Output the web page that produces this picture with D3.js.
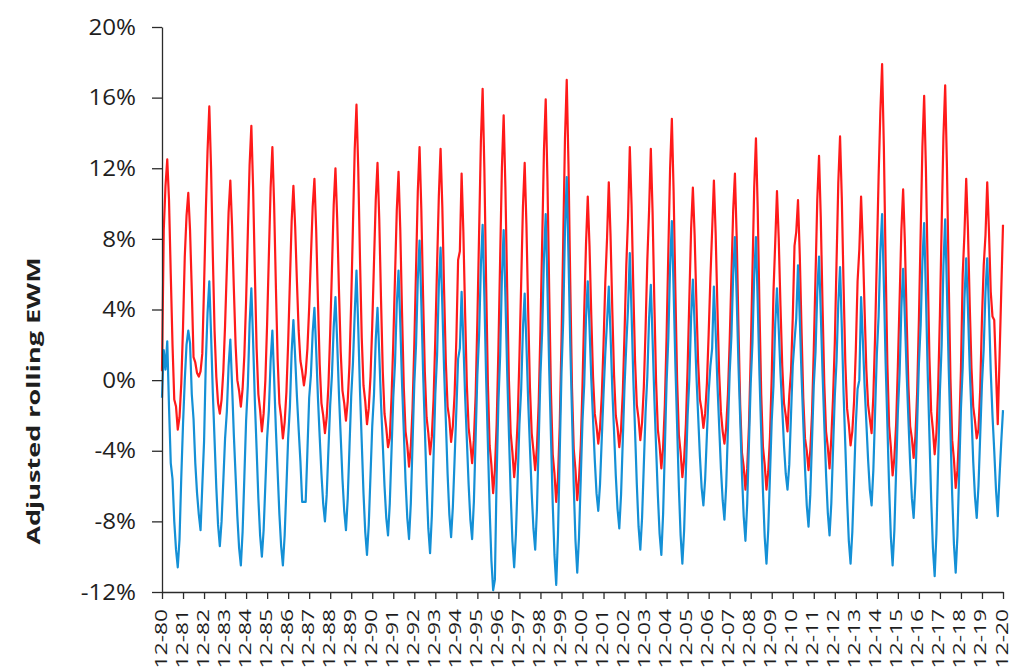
<!DOCTYPE html>
<html>
<head>
<meta charset="utf-8">
<script src="https://cdn.jsdelivr.net/npm/d3@7"></script>
<style>
  body { margin: 0; background: #ffffff; }
  .axis text { font-family: "Open Sans", sans-serif; fill: #1e1e1e; }
  .axis path, .axis line { stroke: #2b2b2b; stroke-width: 1.3px; }
</style>
</head>
<body>
<div id="graph"></div>
<script>
// x axis labels, one per December (month index 0, 12, 24, ...)
var yearLabels = ['12-80', '12-81', '12-82', '12-83', '12-84', '12-85', '12-86', '12-87',
    '12-88', '12-89', '12-90', '12-91', '12-92', '12-93', '12-94', '12-95', '12-96',
    '12-97', '12-98', '12-99', '12-00', '12-01', '12-02', '12-03', '12-04', '12-05',
    '12-06', '12-07', '12-08', '12-09', '12-10', '12-11', '12-12', '12-13', '12-14',
    '12-15', '12-16', '12-17', '12-18', '12-19', '12-20'];

// y axis ticks (percent)
var yTicks = [-12, -8, -4, 0, 4, 8, 12, 16, 20];

// red series, monthly from Dec 1980, then Jan..Dec of each year (percent)
var redSeries = [0.5,
    8.5, 11.0, 12.5, 10.2, 6.0, 2.0, -1.1, -1.5, -2.8, -2.1, -0.2, 3.0,     // 1981
    7.0, 9.3, 10.6, 8.5, 5.1, 1.3, 1.0, 0.4, 0.2, 0.5, 1.5, 5.3,           // 1982
    9.5, 13.0, 15.5, 12.0, 7.1, 2.8, 0.2, -1.3, -1.9, -1.1, 0.5, 3.1,      // 1983
    6.3, 9.5, 11.3, 8.7, 5.2, 2.0, 0.0, -0.6, -1.5, -0.5, 1.4, 4.5,        // 1984
    8.4, 12.2, 14.4, 10.9, 6.1, 1.8, -0.8, -1.7, -2.9, -1.9, 0.0, 3.2,     // 1985
    7.1, 10.9, 13.2, 9.9, 5.3, 1.2, -1.3, -2.1, -3.3, -2.4, -0.7, 2.1,     // 1986
    5.6, 9.0, 11.0, 8.7, 5.6, 2.8, 1.1, 0.5, -0.3, 0.4, 1.8, 4.1,          // 1987
    7.0, 9.8, 11.4, 8.5, 4.5, 0.9, -1.3, -2.0, -3.0, -2.1, -0.3, 2.7,      // 1988
    6.3, 9.9, 12.0, 9.1, 5.1, 1.6, -0.6, -1.3, -2.3, -1.2, 0.9, 4.5,       // 1989
    8.8, 13.1, 15.6, 12.0, 6.9, 2.4, -0.3, -1.2, -2.5, -1.6, 0.2, 3.1,     // 1990
    6.7, 10.2, 12.3, 9.1, 4.6, 0.5, -1.9, -2.7, -3.8, -3.3, -1.0, 2.1,     // 1991
    5.9, 9.6, 11.8, 8.5, 3.8, -0.4, -2.9, -3.7, -4.9, -3.8, -1.6, 2.0,     // 1992
    6.3, 10.7, 13.2, 9.7, 4.8, 0.5, -2.1, -3.0, -4.2, -3.2, -1.1, 2.4,     // 1993
    6.5, 10.4, 13.1, 9.8, 5.1, 1.0, -1.5, -2.2, -3.5, -2.6, -0.8, 2.3,     // 1994
    6.8, 7.3, 11.7, 8.4, 3.8, -0.3, -2.7, -3.6, -4.7, -3.4, -0.9, 3.4,     // 1995
    8.4, 13.5, 16.5, 11.9, 5.5, -0.2, -3.7, -4.8, -6.4, -5.1, -2.5, 1.7,   // 1996
    6.9, 12.0, 15.0, 10.9, 5.2, 0.0, -3.0, -4.1, -5.5, -4.4, -2.3, 1.3,    // 1997
    5.5, 9.8, 12.3, 8.8, 3.9, -0.4, -3.0, -4.0, -5.1, -3.8, -1.3, 2.9,     // 1998
    7.9, 13.0, 15.9, 11.3, 5.0, -0.7, -4.2, -5.3, -6.9, -5.5, -2.6, 2.2,   // 1999
    7.9, 13.7, 17.0, 12.2, 5.6, -0.4, -3.9, -5.1, -6.8, -5.6, -3.7, -0.3,  // 2000
    3.9, 7.7, 10.4, 7.6, 3.7, 0.2, -1.9, -2.6, -3.6, -2.7, -0.9, 2.0,      // 2001
    5.5, 8.0, 11.2, 8.2, 4.0, 0.3, -2.0, -2.7, -3.8, -2.8, -0.7, 2.7,      // 2002
    6.5, 9.2, 13.2, 9.9, 5.2, 1.1, -1.4, -2.2, -3.4, -2.4, -0.4, 2.9,      // 2003
    6.8, 9.6, 13.1, 9.5, 4.4, -0.1, -2.8, -3.7, -5.0, -3.8, -1.4, 2.5,     // 2004
    7.3, 12.0, 14.8, 10.7, 5.1, 0.0, -3.1, -4.1, -5.5, -4.5, -2.5, 0.7,    // 2005
    4.7, 8.6, 10.9, 8.2, 4.4, 1.0, -1.1, -1.7, -2.7, -1.9, -0.2, 2.6,      // 2006
    5.8, 8.5, 11.3, 8.3, 4.1, 0.4, -1.8, -2.9, -3.6, -2.7, -0.8, 2.2,      // 2007
    5.9, 9.6, 11.7, 8.1, 3.1, -1.4, -4.1, -4.9, -6.2, -5.0, -2.6, 1.4,     // 2008
    6.1, 10.9, 13.7, 9.7, 4.1, -0.8, -3.8, -4.8, -6.2, -5.2, -3.2, 0.2,    // 2009
    5.0, 7.8, 10.7, 8.0, 4.2, 0.8, -1.3, -2.0, -2.9, -0.9, 0.5, 3.5,       // 2010
    7.6, 8.4, 10.2, 7.1, 2.9, -1.0, -3.3, -4.0, -5.1, -4.0, -1.9, 1.7,     // 2011
    5.9, 10.2, 12.7, 9.2, 4.2, -0.2, -2.9, -3.8, -5.0, -3.3, -1.0, 2.1,    // 2012
    6.7, 11.2, 13.8, 10.3, 5.4, 1.0, -1.6, -2.5, -3.7, -2.9, -1.2, 1.7,    // 2013
    5.6, 7.4, 10.4, 7.7, 4.0, 0.6, -1.4, -2.2, -3.0, -0.9, 2.5, 7.0,       // 2014
    11.5, 15.2, 17.9, 13.2, 6.7, 0.9, -2.6, -3.8, -5.4, -4.4, -2.5, 0.8,   // 2015
    4.6, 8.5, 10.8, 7.8, 3.5, -0.3, -2.6, -3.3, -4.4, -3.2, -0.7, 3.4,     // 2016
    8.3, 13.2, 16.1, 12.0, 6.4, 1.3, -1.8, -2.8, -4.2, -3.0, -0.4, 3.7,    // 2017
    8.8, 13.8, 16.7, 12.1, 5.8, 0.1, -3.4, -4.5, -6.1, -5.1, -2.9, 0.6,    // 2018
    6.0, 8.3, 11.4, 8.5, 4.3, 0.7, -1.5, -2.3, -3.3, -2.8, -0.5, 3.5,      // 2019
    6.5, 8.2, 11.2, 8.4, 5.0, 3.6, 3.4, 0.5, -2.5, 1.2, 5.0, 8.8];         // 2020

// blue series, same months (percent)
var blueSeries = [-1.0,
    1.7, 0.6, 2.2, -1.5, -4.7, -5.6, -8.0, -9.6, -10.6, -9.0, -5.5, -2.5,  // 1981
    0.0, 2.0, 2.8, 2.1, -0.8, -2.2, -4.7, -6.4, -7.6, -8.5, -6.0, -3.5,    // 1982
    1.0, 3.8, 5.6, 2.6, -0.7, -3.4, -6.1, -8.2, -9.4, -8.0, -5.7, -3.3,    // 1983
    -1.8, 0.8, 2.3, -0.3, -3.1, -5.4, -7.7, -9.5, -10.5, -8.6, -5.5, -2.3, // 1984
    -0.3, 3.2, 5.2, 2.2, -1.2, -3.9, -6.7, -8.8, -10.0, -8.5, -5.9, -3.3,  // 1985
    -1.7, 1.1, 2.8, 0.1, -2.8, -5.2, -7.6, -9.4, -10.5, -8.8, -6.1, -3.3,  // 1986
    -1.5, 1.6, 3.4, 1.3, -0.9, -2.8, -4.6, -6.9, -6.9, -6.9, -4.0, -1.0,   // 1987
    0.3, 2.7, 4.1, 1.7, -1.0, -3.2, -5.3, -7.0, -8.0, -6.5, -3.9, -1.4,    // 1988
    0.3, 3.0, 4.7, 2.1, -0.8, -3.2, -5.6, -7.4, -8.5, -6.7, -3.8, -0.9,    // 1989
    1.0, 3.8, 6.2, 3.0, -0.6, -3.5, -6.4, -8.6, -9.9, -8.2, -5.4, -2.6,    // 1990
    -0.8, 2.3, 4.1, 1.5, -1.3, -3.6, -6.0, -7.8, -8.8, -7.0, -4.0, -1.0,   // 1991
    1.0, 4.3, 6.2, 3.2, -0.2, -2.9, -5.7, -7.8, -9.0, -7.0, -3.6, -0.2,    // 1992
    2.0, 5.7, 7.9, 4.4, 0.5, -2.7, -5.9, -8.4, -9.8, -7.7, -4.3, -0.8,     // 1993
    1.4, 5.3, 7.5, 4.2, 0.6, -2.3, -5.3, -7.6, -8.9, -7.2, -4.5, -1.7,     // 1994
    1.2, 1.8, 5.0, 2.2, -0.9, -3.4, -5.9, -7.9, -9.0, -6.9, -3.3, 0.3,     // 1995
    2.6, 6.5, 8.8, 4.7, 0.1, -3.6, -7.3, -10.2, -11.9, -11.3, -5.4, -1.3,  // 1996
    1.4, 5.8, 8.5, 4.7, 0.5, -3.0, -6.4, -9.1, -10.6, -8.7, -5.6, -2.5,    // 1997
    -0.5, 2.9, 4.9, 2.0, -1.2, -3.8, -6.4, -8.4, -9.6, -7.3, -3.5, 0.3,    // 1998
    2.8, 6.9, 9.4, 5.2, 0.6, -3.2, -7.0, -9.9, -11.6, -8.8, -4.2, 0.4,     // 1999
    3.4, 8.5, 11.5, 7.0, 2.1, -1.9, -6.0, -9.1, -10.9, -8.9, -5.6, -2.3,   // 2000
    -0.2, 3.5, 5.6, 3.0, 0.1, -2.2, -4.5, -6.4, -7.4, -5.9, -3.3, -0.8,    // 2001
    1.5, 3.3, 5.3, 2.6, -0.5, -2.9, -5.4, -7.3, -8.4, -6.5, -3.4, -0.3,    // 2002
    2.0, 4.1, 7.2, 3.8, 0.1, -2.9, -5.9, -8.3, -9.6, -7.8, -4.8, -1.8,     // 2003
    0.2, 3.5, 5.4, 2.3, -1.0, -3.8, -6.5, -8.7, -9.9, -7.6, -3.9, -0.1,    // 2004
    2.4, 6.5, 9.0, 5.1, 0.9, -2.6, -6.1, -8.8, -10.4, -8.5, -5.2, -2.0,    // 2005
    0.1, 3.6, 5.7, 3.1, 0.3, -2.0, -4.3, -6.1, -7.1, -5.6, -3.1, -0.7,     // 2006
    0.8, 1.8, 5.3, 2.7, -0.2, -2.6, -5.0, -6.8, -7.9, -6.0, -2.8, 0.4,     // 2007
    2.5, 6.0, 8.1, 4.7, 0.9, -2.2, -5.3, -7.7, -9.1, -7.0, -3.6, -0.2,     // 2008
    2.1, 5.9, 8.1, 4.4, 0.3, -3.0, -6.3, -8.9, -10.4, -8.5, -5.4, -2.3,    // 2009
    -0.3, 3.2, 5.2, 2.9, 0.4, -1.6, -3.7, -5.3, -6.2, -4.8, -2.0, 0.8,     // 2010
    2.2, 3.5, 6.5, 3.5, 0.3, -2.4, -5.0, -7.1, -8.3, -6.5, -3.4, -0.3,     // 2011
    1.6, 5.0, 7.0, 3.8, 0.4, -2.5, -5.3, -7.5, -8.8, -7.0, -3.9, -0.9,     // 2012
    1.1, 4.4, 6.4, 3.0, -0.7, -3.7, -6.7, -9.1, -10.4, -8.6, -5.6, -2.5,   // 2013
    -0.5, 0.0, 4.7, 2.3, -0.3, -2.4, -4.5, -6.2, -7.1, -5.1, -1.8, 1.5,    // 2014
    3.6, 7.3, 9.4, 5.4, 1.0, -2.5, -6.1, -8.9, -10.5, -8.5, -5.1, -1.8,    // 2015
    0.4, 4.1, 6.3, 3.5, 0.4, -2.2, -4.7, -6.7, -7.8, -5.8, -2.5, 0.9,      // 2016
    3.1, 6.7, 8.9, 4.9, 0.5, -3.1, -6.7, -9.5, -11.1, -8.7, -4.6, -0.6,    // 2017
    2.0, 6.5, 9.1, 5.1, 0.7, -2.9, -6.5, -9.3, -10.9, -8.8, -5.2, -1.6,    // 2018
    0.7, 4.6, 6.9, 4.0, 0.7, -1.9, -4.6, -6.6, -7.8, -6.0, -3.1, -0.2,     // 2019
    1.8, 5.0, 6.9, 4.0, 0.5, -2.0, -4.0, -6.2, -7.7, -5.5, -3.5, -1.7];    // 2020

window.onload = start;

function start() {
    var width = 1012;
    var height = 671;

    // plot box
    var left = 162, right = 1003, top = 27, bottom = 592;

    var svg = d3.select('#graph')
        .append('svg')
        .attr('width', width)
        .attr('height', height);

    // month index -> x
    var xScale = d3.scaleLinear()
        .domain([0, redSeries.length - 1])
        .range([left, right]);

    var yScale = d3.scaleLinear()
        .domain([yTicks[0], yTicks[yTicks.length - 1]])
        .range([bottom, top]);

    var line = d3.line()
        .x(function(d, i) { return xScale(i); })
        .y(function(d) { return yScale(d); });

    // red first, blue drawn over it
    svg.append('path')
        .datum(redSeries)
        .attr('fill', 'none')
        .attr('stroke', '#ff1a1a')
        .attr('stroke-width', 2.2)
        .attr('stroke-linejoin', 'round')
        .attr('d', line);

    svg.append('path')
        .datum(blueSeries)
        .attr('fill', 'none')
        .attr('stroke', '#1490d6')
        .attr('stroke-width', 2.2)
        .attr('stroke-linejoin', 'round')
        .attr('d', line);

    // y axis
    var yAxis = d3.axisLeft(yScale)
        .tickValues(yTicks)
        .tickSize(10)
        .tickSizeOuter(0)
        .tickFormat(function(d) { return d + '%'; });

    var yG = svg.append('g')
        .attr('class', 'axis')
        .attr('transform', 'translate(' + left + ',0)')
        .call(yAxis);

    // text is a bit wider than the font, so stretch it sideways
    yG.selectAll('text')
        .style('font-size', '21px')
        .attr('transform', 'scale(1.15,1)')
        .attr('x', -26 / 1.15)
        .attr('dy', '0.34em');

    // x axis, one tick per December
    var xAxis = d3.axisBottom(xScale)
        .tickValues(yearLabels.map(function(d, i) { return i * 12; }))
        .tickSize(7)
        .tickSizeOuter(0)
        .tickFormat(function(d) { return yearLabels[d / 12]; });

    var xG = svg.append('g')
        .attr('class', 'axis')
        .attr('transform', 'translate(0,' + bottom + ')')
        .call(xAxis);

    xG.selectAll('text')
        .style('font-size', '16.5px')
        .attr('text-anchor', 'end')
        .attr('transform', 'rotate(-90) scale(1.38,1)')
        .attr('x', -17 / 1.38)
        .attr('y', 4)
        .attr('dy', 0);

    // y axis title
    svg.append('text')
        .attr('transform', 'translate(40,401) rotate(-90) scale(1.5,1)')
        .attr('text-anchor', 'middle')
        .style('font-family', '"Open Sans", sans-serif')
        .style('font-weight', 'bold')
        .style('font-size', '18px')
        .style('fill', '#1e1e1e')
        .text('Adjusted rolling EWM');
}
</script>
</body>
</html>
